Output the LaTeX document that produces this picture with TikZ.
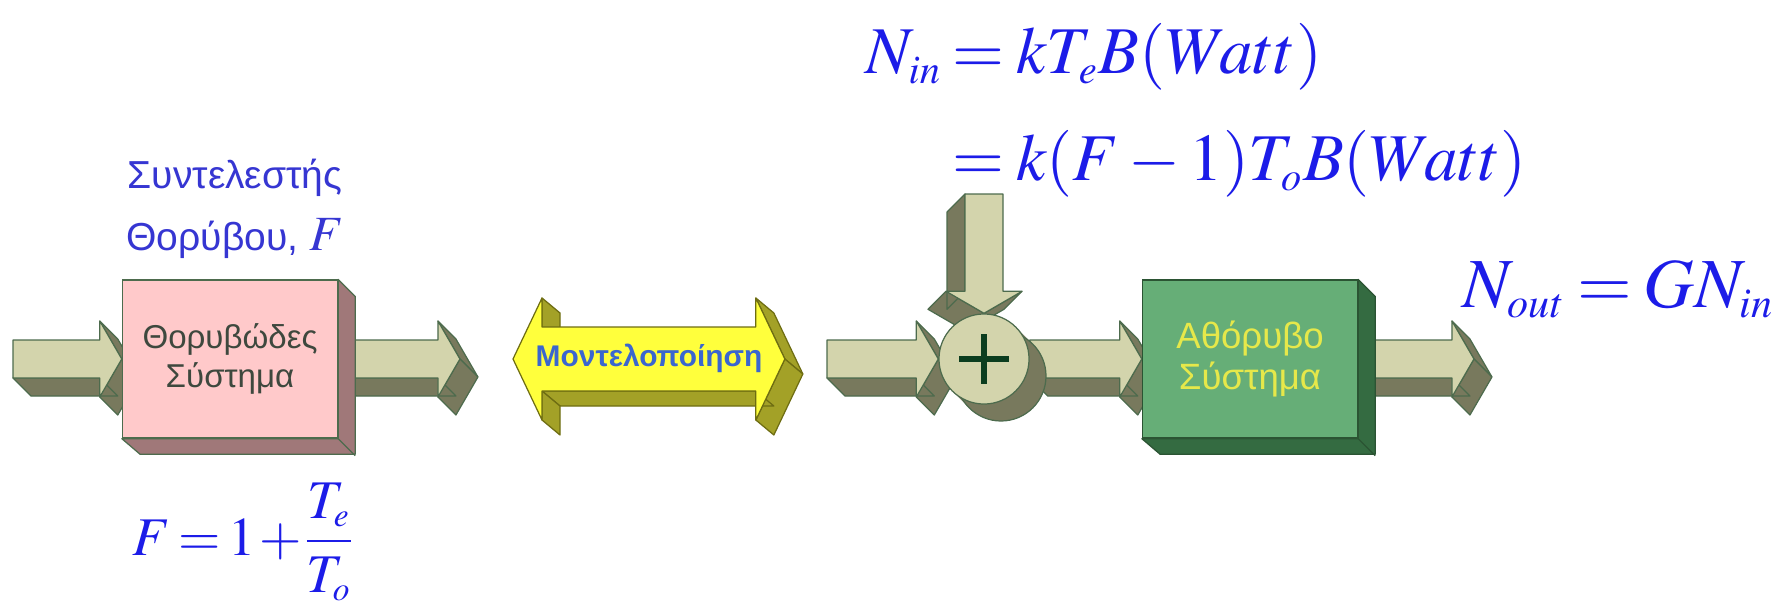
\documentclass[tikz,border=0pt]{standalone}
\usepackage{amsmath}
\usepackage[no-math]{fontspec}
\usepackage{mathptmx}
\setmainfont{Liberation Sans}
\usepackage{tikz}
\usetikzlibrary{backgrounds}
\DeclareMathSizes{19}{19}{11.5}{9}
\DeclareMathSizes{20}{20}{12}{9.5}
\DeclareMathSizes{15.5}{15.5}{9.5}{7.5}
\thickmuskip=3mu
\medmuskip=2.5mu
\nulldelimiterspace=0pt

\definecolor{arrowfacecol}{HTML}{D3D4AC}
\definecolor{arrowsidecol}{HTML}{78795D}
\definecolor{arrowedgecol}{HTML}{4D6B4D}
\definecolor{pinkfacecol}{HTML}{FFC9CA}
\definecolor{pinksidecol}{HTML}{A07879}
\definecolor{greenfacecol}{HTML}{66AE77}
\definecolor{greensidecol}{HTML}{346B41}
\definecolor{greenedgecol}{HTML}{2B5433}
\definecolor{yellowfacecol}{HTML}{FFFF3C}
\definecolor{yellowsidecol}{HTML}{A3A127}
\definecolor{yellowedgecol}{HTML}{6E6D12}
\definecolor{pluscol}{HTML}{0B3D1F}
\definecolor{eqblue}{HTML}{1C1CE8}
\definecolor{lblblue}{HTML}{3636D2}
\definecolor{modelblue}{HTML}{3A66CF}
\definecolor{boxtextcol}{HTML}{3E483E}
\definecolor{cleantextcol}{HTML}{E6E84A}

\tikzstyle{noisybox} = [rectangle, draw=arrowedgecol, line width=0.35pt, fill=pinkfacecol, minimum width=2.15cm, minimum height=1.58cm, align=center, text=boxtextcol, font=\fontsize{9.4}{11}\selectfont]
\tikzstyle{cleanbox} = [rectangle, draw=greenedgecol, line width=0.35pt, fill=greenfacecol, minimum width=2.15cm, minimum height=1.58cm, align=center, text=cleantextcol, font=\fontsize{10.4}{11.7}\selectfont]
\tikzstyle{noisyside} = [fill=pinksidecol, draw=arrowedgecol, line width=0.35pt, line join=round]
\tikzstyle{cleanside} = [fill=greensidecol, draw=greenedgecol, line width=0.35pt, line join=round]
\tikzstyle{sumnode} = [circle, draw=arrowedgecol, line width=0.35pt, fill=arrowfacecol, minimum size=0.9cm, inner sep=0pt]
\tikzstyle{plusline} = [draw=pluscol, line width=1.5pt]
\tikzstyle{eq} = [text=eqblue, inner sep=0pt]
\tikzstyle{labeltext} = [text=lblblue, align=center, inner sep=0pt, font=\fontsize{11.1}{17.6}\selectfont]
\tikzstyle{modeltext} = [text=modelblue, inner sep=0pt, font=\fontsize{8.5}{10}\selectfont\bfseries]
\tikzstyle{flatface} = [fill=arrowfacecol, draw=arrowedgecol, line width=0.35pt, line join=round]
\tikzstyle{flatside} = [fill=arrowsidecol, draw=arrowedgecol, line width=0.35pt, line join=round]
\tikzstyle{wideface} = [fill=yellowfacecol, draw=yellowedgecol, line width=0.35pt, line join=round]
\tikzstyle{wideside} = [fill=yellowsidecol, draw=yellowedgecol, line width=0.35pt, line join=round]

% 3D block arrow (khaki) from #1 to #2
\newcommand{\flatarrow}[2]{%
  \path (#1); \pgfgetlastxy{\fax}{\fay}%
  \path (#2); \pgfgetlastxy{\fbx}{\fby}%
  \pgfmathsetmacro{\flen}{veclen(\fbx-\fax,\fby-\fay)/0.2845274}%
  \pgfmathsetmacro{\fang}{atan2(\fby-\fay,\fbx-\fax)}%
  \begin{scope}[shift={(#1)}, rotate=\fang]
    \draw[flatside] ({\flen-22},-38) -- (\flen,0) -- ({\flen+18},18) -- ({\flen-4},-20) -- cycle;
    \draw[flatside] (\flen,0) -- ({\flen-22},38) -- ({\flen-4},56) -- ({\flen+18},18) -- cycle;
    \draw[flatside] ({\flen-22},19) -- (0,19) -- (18,37) -- ({\flen-4},37) -- cycle;
    \draw[flatface] (0,-19) -- ({\flen-22},-19) -- ({\flen-22},-38) -- (\flen,0) -- ({\flen-22},38) -- ({\flen-22},19) -- (0,19) -- cycle;
  \end{scope}}

% 3D double block arrow (yellow) from #1 to #2
\newcommand{\widearrow}[2]{%
  \path (#1); \pgfgetlastxy{\fax}{\fay}%
  \path (#2); \pgfgetlastxy{\fbx}{\fby}%
  \pgfmathsetmacro{\flen}{veclen(\fbx-\fax,\fby-\fay)/0.2845274}%
  \pgfmathsetmacro{\fang}{atan2(\fby-\fay,\fbx-\fax)}%
  \begin{scope}[shift={(#1)}, rotate=\fang]
    \draw[wideside] (29,-61) -- (29,-32) -- (47,-17) -- (47,-46) -- cycle;
    \draw[wideside] ({\flen-29},-61) -- (\flen,0) -- ({\flen+18},15) -- ({\flen-11},-46) -- cycle;
    \draw[wideside] (\flen,0) -- ({\flen-29},61) -- ({\flen-11},76) -- ({\flen+18},15) -- cycle;
    \draw[wideside] ({\flen-29},32) -- (29,32) -- (47,47) -- ({\flen-11},47) -- cycle;
    \draw[wideside] (29,32) -- (29,61) -- (47,76) -- (47,47) -- cycle;
    \draw[wideface] (0,0) -- (29,-61) -- (29,-32) -- ({\flen-29},-32) -- ({\flen-29},-61) -- (\flen,0) -- ({\flen-29},61) -- ({\flen-29},32) -- (29,32) -- (29,61) -- cycle;
  \end{scope}}

\begin{document}
\begin{tikzpicture}[x=0.01cm, y=-0.01cm]
    \useasboundingbox (0,0) rectangle (1773,612);

    % Free ends of the block arrows
    \coordinate (src) at (13,359);
    \coordinate (mid1) at (460,359);
    \coordinate (mleft) at (513,359);
    \coordinate (mright) at (785,359);
    \coordinate (src2) at (827,359);
    \coordinate (noise) at (984,194);
    \coordinate (sink) at (1474,359);

    % Noise figure
    \node (fname) [labeltext, anchor=base] at (235,250) {Συντελεστής\\Θορύβου, {\fontsize{14}{14}\selectfont$F$}};
    \node (fdef) [eq, anchor=base west] at (132,555) {\fontsize{15.5}{20}\selectfont\medmuskip=1.5mu\thickmuskip=2.5mu$F=1+\dfrac{T_e}{T_o}$};

    % Noisy system
    \node (noisy) [noisybox] at (230,359) {Θορυβώδες\\Σύστημα};
    \draw[noisyside] (noisy.north east) -- ++(17,17) -- ++(0,158) -- ++(-215,0) -- (noisy.south west) -- (noisy.south east) -- cycle;
    \draw[arrowedgecol, line width=0.35pt] (noisy.south east) -- ++(17,17);

    % Modelling
    \node (model) [modeltext] at (649,358) {Μοντελοποίηση};

    % Summing point
    \node (sum) [sumnode] at (984,359) {};
    \draw[plusline] (sum.center) ++(-25,0) -- ++(50,0);
    \draw[plusline] (sum.center) ++(0,-25) -- ++(0,50);

    % Noise free system
    \node (clean) [cleanbox] at (1250,359) {Αθόρυβο\\Σύστημα};
    \draw[cleanside] (clean.north east) -- ++(17,17) -- ++(0,158) -- ++(-215,0) -- (clean.south west) -- (clean.south east) -- cycle;
    \draw[greenedgecol, line width=0.35pt] (clean.south east) -- ++(17,17);

    % Noise powers
    \node (nin) [eq, anchor=base west] at (865,73) {\fontsize{19}{27.5}\selectfont$\begin{aligned}[t] N_{in} &= kT_eB(Watt)\\ &= k(F-1)T_oB(Watt)\end{aligned}$};
    \node (nout) [eq, anchor=base west] at (1462,307) {\fontsize{20}{25}\selectfont$N_{out}=GN_{in}$};

    % Block arrows
    \begin{scope}[on background layer]
        \flatarrow{src}{noisy.west}
        \flatarrow{noisy.east}{mid1}
        \widearrow{mleft}{mright}
        \flatarrow{src2}{sum.west}
        \flatarrow{noise}{sum.north}
        \flatarrow{sum.east}{clean.west}
        \flatarrow{clean.east}{sink}
        % shadow of the summing point
        \fill[arrowsidecol] (sum.center) ++(31.8,-31.8) -- ++(-63.6,63.6) -- ++(17,17) -- ++(63.6,-63.6) -- cycle;
        \draw[flatside] ([shift={(17,17)}]sum.center) circle (45);
    \end{scope}
\end{tikzpicture}
\end{document}
